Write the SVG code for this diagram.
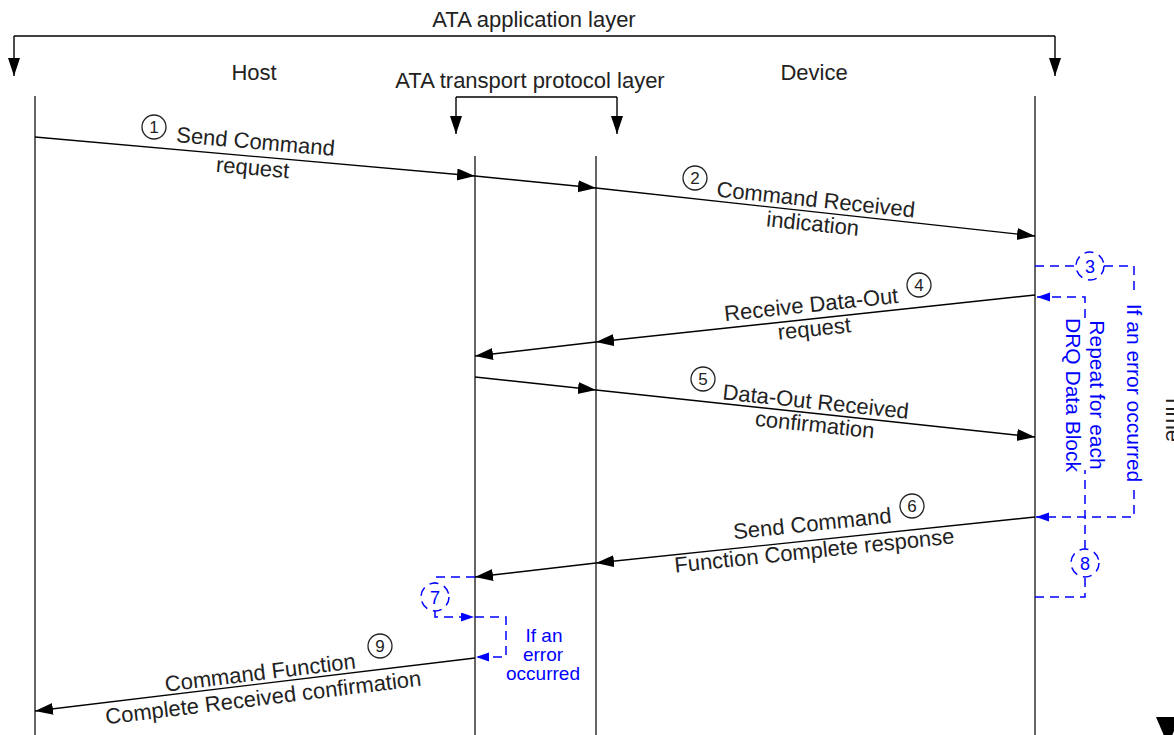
<svg xmlns="http://www.w3.org/2000/svg" width="1174" height="735" viewBox="0 0 1174 735">
<style>
text{font-family:"Liberation Sans",Arial,sans-serif;}
.t{font-size:22px;fill:#222;text-anchor:middle}
.n{font-size:17px;fill:#222;text-anchor:middle}
.b{font-size:21px;fill:#0000ff;text-anchor:middle}
.bs{font-size:19px;fill:#0000ff;text-anchor:middle}
.life{stroke:#333;stroke-width:1.5;fill:none}
.ln{stroke:#000;stroke-width:1.4;fill:none}
.dash{stroke:#0000ff;stroke-width:1.5;stroke-dasharray:9 6;fill:none}
.circ{fill:#fff;stroke:#222;stroke-width:1.3}
.bcirc{fill:none;stroke:#0000ff;stroke-width:1.5;stroke-dasharray:9 6}
</style>
<defs>
<marker id="ah" markerUnits="userSpaceOnUse" markerWidth="20" markerHeight="14" refX="18" refY="6" orient="auto">
<path d="M0,0 L18,6 L0,12 z" fill="#000"/>
</marker>
<marker id="bh" markerUnits="userSpaceOnUse" markerWidth="14" markerHeight="10" refX="13" refY="4.5" orient="auto">
<path d="M0,0 L13,4.5 L0,9 z" fill="#0000ff"/>
</marker>
</defs>
<rect width="1174" height="735" fill="#fff"/>

<g id="app-layer">
<text class="t" x="534" y="27">ATA application layer</text>
<path class="ln" d="M14,36 H1055" />
<path class="ln" d="M14,36 V76" marker-end="url(#ah)"/>
<path class="ln" d="M1055,36 V76" marker-end="url(#ah)"/>
</g>

<g id="transport-layer">
<text class="t" x="530" y="88">ATA transport protocol layer</text>
<path class="ln" d="M456,97 H617"/>
<path class="ln" d="M456,97 V134" marker-end="url(#ah)"/>
<path class="ln" d="M617,97 V134" marker-end="url(#ah)"/>
<line class="life" x1="475" y1="156" x2="475" y2="735"/>
<line class="life" x1="596" y1="156" x2="596" y2="735"/>
</g>

<g id="host">
<text class="t" x="254" y="80">Host</text>
<line class="life" x1="35" y1="96" x2="35" y2="735"/>
</g>

<g id="device">
<text class="t" x="814" y="80">Device</text>
<line class="life" x1="1035" y1="96" x2="1035" y2="735"/>
</g>

<g id="time">
<text class="t" transform="translate(1166,418) rotate(90)" x="0" y="0">Time</text>
<polygon points="1156,717 1180,717 1168,745" fill="#000"/>
</g>

<g id="connectors">
<path class="ln" d="M35,137 L475,176" marker-end="url(#ah)"/>
<path class="ln" d="M475,176 L596,188" marker-end="url(#ah)"/>
<path class="ln" d="M596,188 L1035,236" marker-end="url(#ah)"/>
<path class="ln" d="M1035,295 L596,342" marker-end="url(#ah)"/>
<path class="ln" d="M596,342 L475,356" marker-end="url(#ah)"/>
<path class="ln" d="M475,377 L596,390" marker-end="url(#ah)"/>
<path class="ln" d="M596,390 L1035,437" marker-end="url(#ah)"/>
<path class="ln" d="M1035,517 L596,563" marker-end="url(#ah)"/>
<path class="ln" d="M596,563 L475,577" marker-end="url(#ah)"/>
<path class="ln" d="M475,658 L35,711" marker-end="url(#ah)"/>

<path class="dash" d="M1035,266 H1076"/>
<path class="dash" d="M1104,266 H1134 V296"/>
<path class="dash" d="M1134,490 V517 H1036" marker-end="url(#bh)"/>
<path class="dash" d="M1035,597 H1085 V577"/>
<path class="dash" d="M1085,549 V470"/>
<path class="dash" d="M1085,318 V297 H1037" marker-end="url(#bh)"/>
<path class="dash" d="M475,577 H435 V583"/>
<path class="dash" d="M435,611 V617 H474" marker-end="url(#bh)"/>
<path class="dash" d="M475,617 H506 V657 H476" marker-end="url(#bh)"/>
</g>

<g id="label-1">
<circle class="circ" cx="154" cy="127" r="12"/><text class="n" x="154" y="133">1</text>
<text class="t" transform="translate(255,149) rotate(5)">Send Command</text>
<text class="t" transform="translate(252,175) rotate(5)">request</text>
</g>
<g id="label-2">
<circle class="circ" cx="695" cy="178" r="12"/><text class="n" x="695" y="184">2</text>
<text class="t" transform="translate(815,207) rotate(6)">Command Received</text>
<text class="t" transform="translate(812,231) rotate(6)">indication</text>
</g>
<g id="label-4">
<circle class="circ" cx="919" cy="285" r="12"/><text class="n" x="919" y="291">4</text>
<text class="t" transform="translate(812,312) rotate(-6)">Receive Data-Out</text>
<text class="t" transform="translate(815,336) rotate(-6)">request</text>
</g>
<g id="label-5">
<circle class="circ" cx="703" cy="379" r="12"/><text class="n" x="703" y="385">5</text>
<text class="t" transform="translate(815,409) rotate(6)">Data-Out Received</text>
<text class="t" transform="translate(814,432) rotate(6)">confirmation</text>
</g>
<g id="label-6">
<circle class="circ" cx="912" cy="506" r="12"/><text class="n" x="912" y="512">6</text>
<text class="t" transform="translate(813,531) rotate(-6)">Send Command</text>
<text class="t" transform="translate(815,558) rotate(-6)">Function Complete response</text>
</g>
<g id="label-9">
<circle class="circ" cx="380" cy="646" r="12"/><text class="n" x="380" y="652">9</text>
<text class="t" transform="translate(261,680) rotate(-7)">Command Function</text>
<text class="t" transform="translate(264,705) rotate(-7)">Complete Received confirmation</text>
</g>

<g id="loop-3">
<circle class="bcirc" cx="1090" cy="266" r="14"/>
<text class="bs" x="1090" y="273" style="font-size:18px">3</text>
<text class="b" transform="translate(1134,393) rotate(90)" x="0" y="7">If an error occurred</text>
</g>
<g id="loop-8">
<circle class="bcirc" cx="1085" cy="563" r="14"/>
<text class="bs" x="1085" y="570" style="font-size:18px">8</text>
<text class="b" transform="translate(1085,395) rotate(90)" x="0" y="-5">Repeat for each</text>
<text class="b" transform="translate(1085,395) rotate(90)" x="0" y="19">DRQ Data Block</text>
</g>
<g id="loop-7">
<circle class="bcirc" cx="435" cy="597" r="14"/>
<text class="bs" x="435" y="604" style="font-size:18px">7</text>
<text class="bs" x="544" y="642">If an</text>
<text class="bs" x="543" y="661">error</text>
<text class="bs" x="543" y="680">occurred</text>
</g>
</svg>
